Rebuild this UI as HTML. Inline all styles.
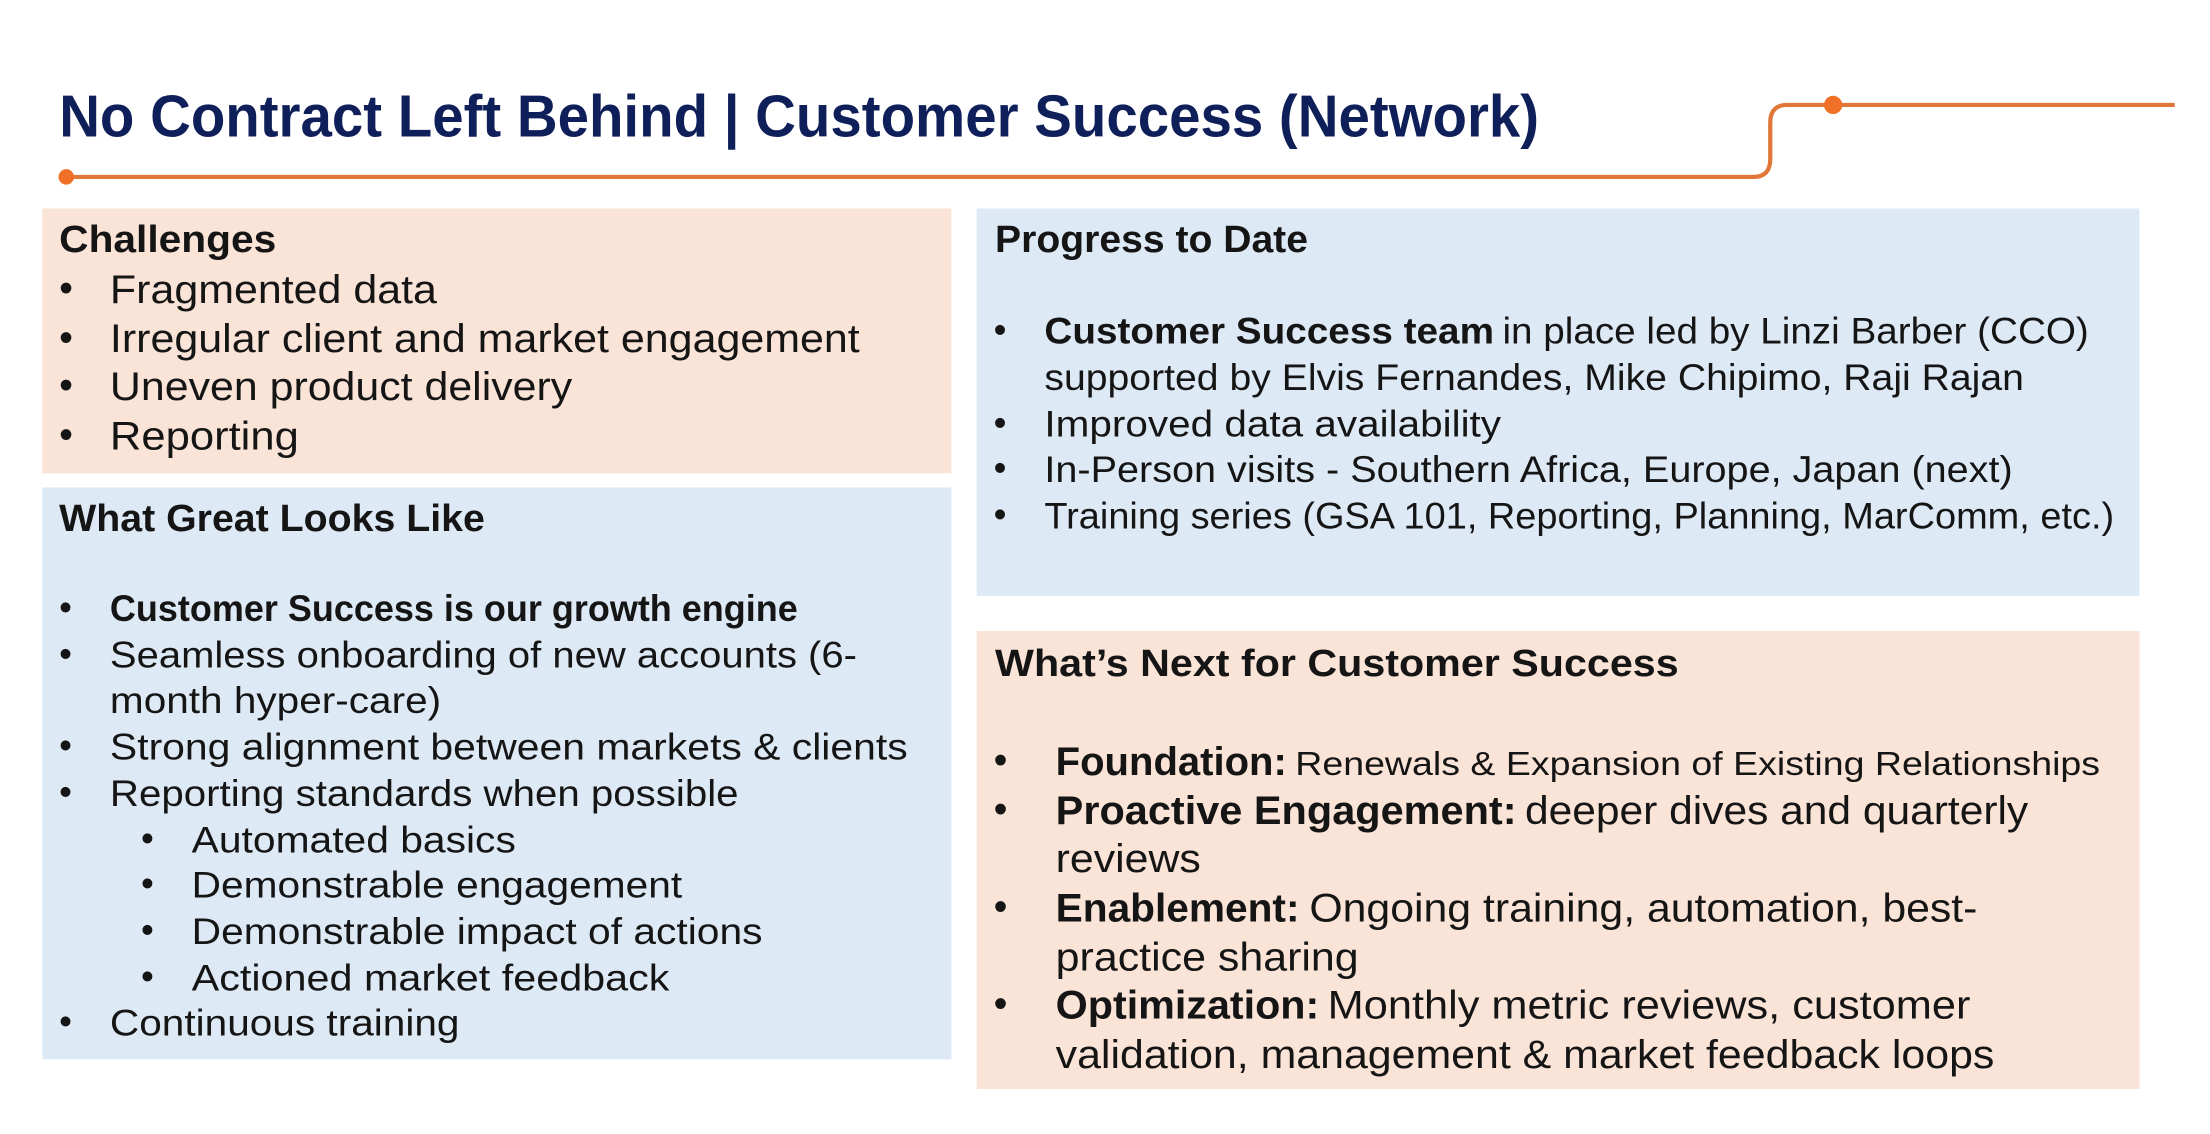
<!DOCTYPE html>
<html><head><meta charset="utf-8"><style>
html,body{margin:0;padding:0;background:#fff;}
svg{display:block;}
text{font-family:"Liberation Sans",sans-serif;fill:#151515;}
.b{font-weight:bold;}
</style></head><body>
<svg width="2210" height="1134" viewBox="0 0 1568 805" preserveAspectRatio="none" xmlns="http://www.w3.org/2000/svg">
<rect x="0" y="0" width="1568" height="805" fill="#fff"/>
<text x="42" y="97" font-size="42" class="b" style="fill:#0f1f5a" textLength="1050" lengthAdjust="spacingAndGlyphs">No Contract Left Behind | Customer Success (Network)</text>
<path d="M47 125.6 H1244 Q1256 125.6 1256 113 V87 Q1256 74.5 1268 74.5 H1543" fill="none" stroke="#e07739" stroke-width="3"/>
<circle cx="47" cy="125.6" r="5.5" fill="#f07028"/>
<circle cx="1300.6" cy="74.5" r="6.5" fill="#f07028"/>

<rect x="30" y="148" width="645" height="188" fill="#fae3d7"/>
<rect x="30" y="346" width="645" height="406" fill="#dde9f5"/>
<rect x="693" y="148" width="825" height="275" fill="#dde9f5"/>
<rect x="693" y="448" width="825" height="325" fill="#fae3d7"/>

<text x="42" y="179" font-size="27" class="b" textLength="154" lengthAdjust="spacingAndGlyphs">Challenges</text>
<g font-size="28">
<text x="42" y="214">•</text><text x="78" y="215" textLength="232" lengthAdjust="spacingAndGlyphs">Fragmented data</text>
<text x="42" y="249">•</text><text x="78" y="250" textLength="532" lengthAdjust="spacingAndGlyphs">Irregular client and market engagement</text>
<text x="42" y="283">•</text><text x="78" y="284" textLength="328" lengthAdjust="spacingAndGlyphs">Uneven product delivery</text>
<text x="42" y="318">•</text><text x="78" y="319" textLength="134" lengthAdjust="spacingAndGlyphs">Reporting</text>
</g>

<text x="42" y="377" font-size="27" class="b" textLength="302" lengthAdjust="spacingAndGlyphs">What Great Looks Like</text>
<g font-size="26">
<text x="42" y="440">•</text><text x="78" y="441" class="b" textLength="488" lengthAdjust="spacingAndGlyphs">Customer Success is our growth engine</text>
<text x="42" y="473">•</text><text x="78" y="474" textLength="530" lengthAdjust="spacingAndGlyphs">Seamless onboarding of new accounts (6-</text>
<text x="78" y="506" textLength="235" lengthAdjust="spacingAndGlyphs">month hyper-care)</text>
<text x="42" y="538">•</text><text x="78" y="539" textLength="566" lengthAdjust="spacingAndGlyphs">Strong alignment between markets &amp; clients</text>
<text x="42" y="571">•</text><text x="78" y="572" textLength="446" lengthAdjust="spacingAndGlyphs">Reporting standards when possible</text>
<text x="100" y="604">•</text><text x="136" y="605" textLength="230" lengthAdjust="spacingAndGlyphs">Automated basics</text>
<text x="100" y="636">•</text><text x="136" y="637" textLength="348" lengthAdjust="spacingAndGlyphs">Demonstrable engagement</text>
<text x="100" y="669">•</text><text x="136" y="670" textLength="405" lengthAdjust="spacingAndGlyphs">Demonstrable impact of actions</text>
<text x="100" y="702">•</text><text x="136" y="703" textLength="339" lengthAdjust="spacingAndGlyphs">Actioned market feedback</text>
<text x="42" y="734">•</text><text x="78" y="735" textLength="248" lengthAdjust="spacingAndGlyphs">Continuous training</text>
</g>

<text x="706" y="179" font-size="27" class="b" textLength="222" lengthAdjust="spacingAndGlyphs">Progress to Date</text>
<g font-size="26">
<text x="705" y="243">•</text><text x="741" y="244" class="b" textLength="319" lengthAdjust="spacingAndGlyphs">Customer Success team</text><text x="1066" y="244" textLength="416" lengthAdjust="spacingAndGlyphs">in place led by Linzi Barber (CCO)</text>
<text x="741" y="277" textLength="695" lengthAdjust="spacingAndGlyphs">supported by Elvis Fernandes, Mike Chipimo, Raji Rajan</text>
<text x="705" y="309">•</text><text x="741" y="310" textLength="324" lengthAdjust="spacingAndGlyphs">Improved data availability</text>
<text x="705" y="341">•</text><text x="741" y="342" textLength="687" lengthAdjust="spacingAndGlyphs">In-Person visits - Southern Africa, Europe, Japan (next)</text>
<text x="705" y="374">•</text><text x="741" y="375" textLength="759" lengthAdjust="spacingAndGlyphs">Training series (GSA 101, Reporting, Planning, MarComm, etc.)</text>
</g>

<text x="706" y="480" font-size="27" class="b" textLength="485" lengthAdjust="spacingAndGlyphs">What’s Next for Customer Success</text>
<g font-size="28">
<text x="705" y="549">•</text><text x="749" y="550" class="b" textLength="164" lengthAdjust="spacingAndGlyphs">Foundation:</text><text x="919" y="550" font-size="24" textLength="571" lengthAdjust="spacingAndGlyphs">Renewals &amp; Expansion of Existing Relationships</text>
<text x="705" y="584">•</text><text x="749" y="585" class="b" textLength="327" lengthAdjust="spacingAndGlyphs">Proactive Engagement:</text><text x="1082" y="585" textLength="357" lengthAdjust="spacingAndGlyphs">deeper dives and quarterly</text>
<text x="749" y="619" textLength="103" lengthAdjust="spacingAndGlyphs">reviews</text>
<text x="705" y="653">•</text><text x="749" y="654" class="b" textLength="173" lengthAdjust="spacingAndGlyphs">Enablement:</text><text x="929" y="654" textLength="474" lengthAdjust="spacingAndGlyphs">Ongoing training, automation, best-</text>
<text x="749" y="689" textLength="215" lengthAdjust="spacingAndGlyphs">practice sharing</text>
<text x="705" y="722">•</text><text x="749" y="723" class="b" textLength="187" lengthAdjust="spacingAndGlyphs">Optimization:</text><text x="942" y="723" textLength="456" lengthAdjust="spacingAndGlyphs">Monthly metric reviews, customer</text>
<text x="749" y="758" textLength="666" lengthAdjust="spacingAndGlyphs">validation, management &amp; market feedback loops</text>
</g>
</svg>
</body></html>
